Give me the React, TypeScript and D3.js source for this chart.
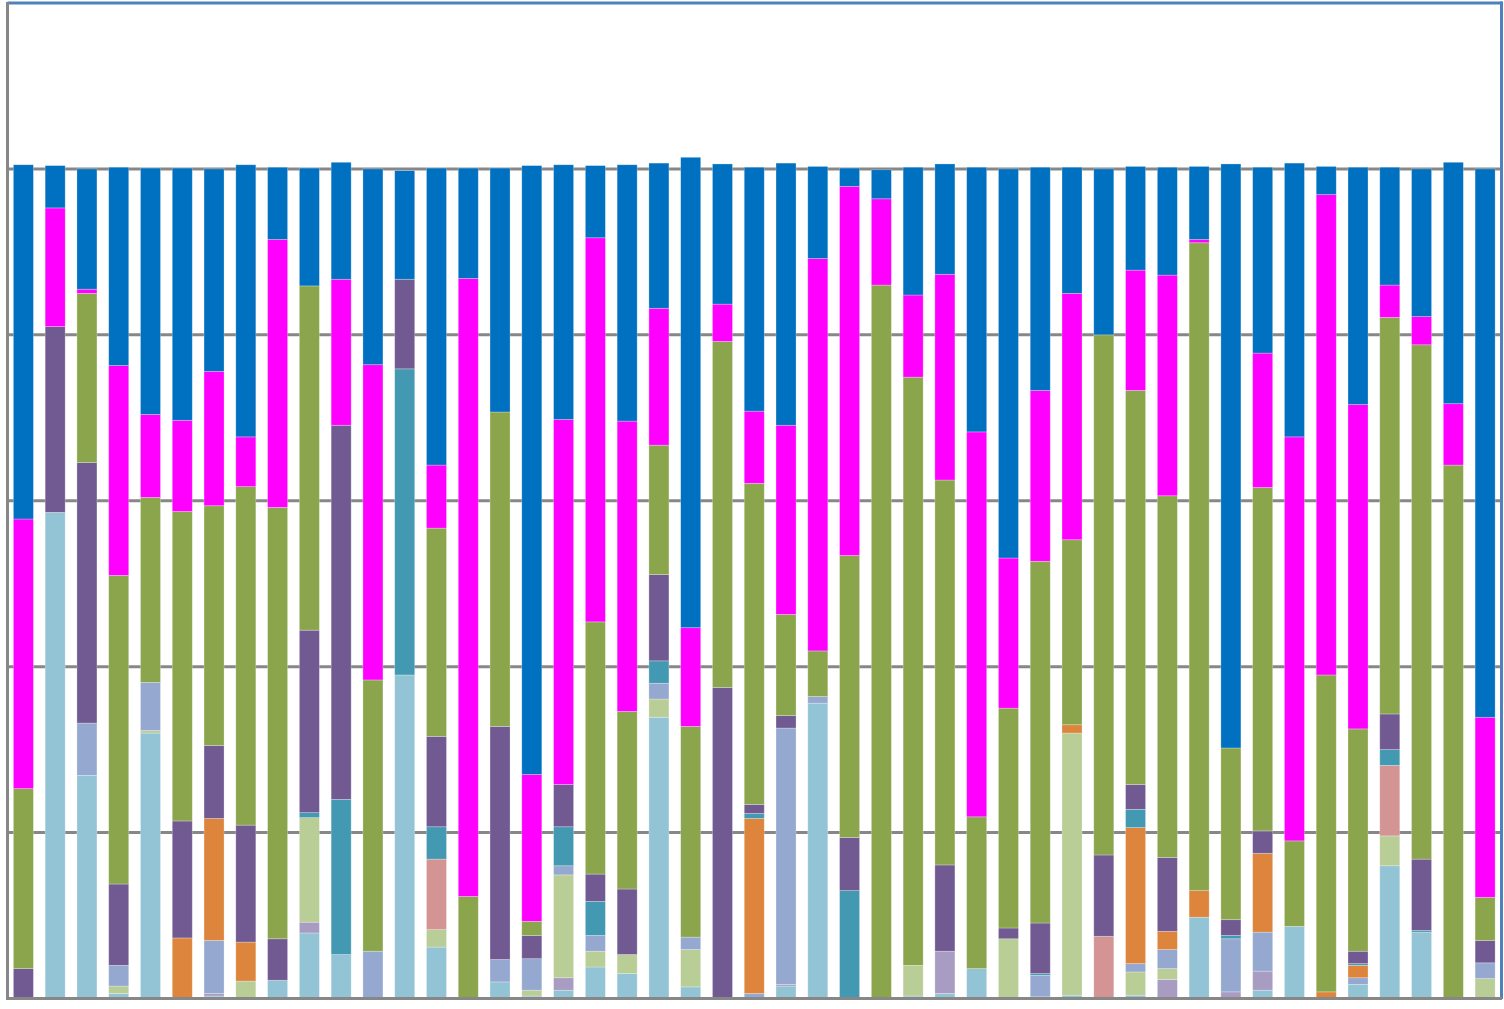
import * as d3 from 'd3';

const W = 1504;
const H = 1009;

// series, bottom to top
const seriesKeys = ['lb', 'lav', 'lg', 'lpb', 'pk', 'or', 'tl', 'pu', 'gr', 'mg', 'bl'];
const seriesColors = ['#93C4D5', '#A99CC2', '#B9CD96', '#95A8D0', '#D49494', '#DD853D', '#4299B1', '#715A92', '#8AA54C', '#FF00FF', '#0070C0'];

const categories = d3.range(1, 48).map(String);

const lb = [0, 58.6, 26.9, 0.6, 32.0, 0, 0.3, 0, 2.2, 7.9, 5.3, 0, 39.0, 6.2, 0, 2.0, 0.3, 1.0, 3.8, 3.0, 33.9, 1.4, 0, 0, 1.5, 35.6, 0, 0, 0.3, 0.6, 3.6, 0, 0.2, 0.4, 0, 0.4, 0, 9.8, 0, 1.0, 8.7, 0, 1.7, 16.0, 8.0, 0, 0];
const lav = [0, 0, 0, 0, 0, 0, 0.3, 0, 0, 1.3, 0, 0, 0, 0, 0, 0, 0, 1.5, 0, 0, 0, 0, 0, 0, 0.2, 0, 0, 0, 0, 5.1, 0, 0, 0, 0, 0, 0, 2.3, 0, 0.8, 2.3, 0, 0, 0, 0, 0, 0, 0];
const lg = [0, 0, 0, 0.9, 0.3, 0, 0, 2.1, 0, 12.6, 0, 0, 0, 2.1, 0, 0, 0.7, 12.4, 1.9, 2.3, 2.2, 4.5, 0, 0, 0, 0, 0, 0, 3.7, 0, 0, 7.2, 0, 31.6, 0, 2.8, 1.3, 0, 0, 0, 0, 0, 0, 3.6, 0, 0, 2.4];
const lpb = [0, 0, 6.3, 2.5, 5.8, 0, 6.4, 0, 0, 0, 0, 5.7, 0, 0, 0, 2.7, 3.8, 1.1, 1.9, 0, 1.9, 1.5, 0, 0.6, 30.9, 0.8, 0, 0, 0, 0, 0, 0, 2.6, 0, 0, 1.0, 2.3, 0, 6.4, 4.7, 0, 0, 0.8, 0, 0, 0, 1.9];
const pk = [0, 0, 0, 0, 0, 0, 0, 0, 0, 0, 0, 0, 0, 8.5, 0, 0, 0, 0, 0, 0, 0, 0, 0, 0, 0, 0, 0, 0, 0, 0, 0, 0, 0, 0, 7.5, 0, 0, 0, 0, 0, 0, 0, 0, 8.5, 0, 0, 0];
const or = [0, 0, 0, 0, 0, 7.3, 14.7, 4.7, 0, 0, 0, 0, 0, 0, 0, 0, 0, 0, 0, 0, 0, 0, 0, 21.1, 0, 0, 0, 0, 0, 0, 0, 0, 0, 1.0, 0, 16.4, 2.2, 3.2, 0, 9.5, 0, 0.8, 1.5, 0, 0, 0, 0];
const tl = [0, 0, 0, 0, 0, 0, 0, 0, 0, 0.6, 18.7, 0, 36.9, 3.9, 0, 0, 0, 4.7, 4.1, 0, 2.7, 0, 0, 0.6, 0, 0, 13.0, 0, 0, 0, 0, 0, 0.2, 0, 0, 2.2, 0, 0, 0.4, 0, 0, 0, 0.2, 1.9, 0.2, 0, 0];
const pu = [3.6, 22.4, 31.4, 9.8, 0, 14.1, 8.8, 14.1, 5.0, 22.0, 45.1, 0, 10.8, 10.9, 0, 28.1, 2.8, 5.1, 3.3, 7.9, 10.4, 0, 37.5, 1.1, 1.5, 0, 6.4, 0, 0, 10.4, 0, 1.3, 6.1, 0, 9.8, 3.0, 8.9, 0, 1.9, 2.7, 0, 0, 1.5, 4.3, 8.6, 0, 2.7];
const gr = [21.7, 0, 20.4, 37.2, 22.3, 37.3, 28.9, 40.8, 52.0, 41.5, 0, 32.7, 0, 25.1, 12.3, 37.9, 1.7, 0, 30.4, 21.4, 15.6, 25.4, 41.7, 38.7, 12.2, 5.5, 34.0, 86.0, 70.9, 46.4, 18.3, 26.5, 43.6, 22.3, 62.7, 47.5, 43.6, 78.1, 20.7, 41.4, 10.3, 38.2, 26.8, 47.8, 62.0, 64.3, 5.2];
const mg = [32.5, 14.3, 0.5, 25.3, 10.0, 11.0, 16.2, 6.0, 32.3, 0, 17.6, 38.0, 0, 7.6, 74.5, 0, 17.7, 44.0, 46.3, 35.0, 16.5, 11.9, 4.5, 8.7, 22.8, 47.3, 44.5, 10.4, 9.9, 24.8, 46.4, 18.1, 20.6, 29.7, 0, 14.5, 26.6, 0.4, 0, 16.2, 48.7, 57.9, 39.1, 3.9, 3.4, 7.4, 21.7];
const bl = [42.7, 5.1, 14.5, 23.9, 29.7, 30.4, 24.4, 32.8, 8.7, 14.2, 14.1, 23.6, 13.1, 35.8, 13.3, 29.4, 73.4, 30.7, 8.7, 30.9, 17.5, 56.7, 16.9, 29.4, 31.6, 11.1, 2.2, 3.5, 15.4, 13.3, 31.9, 46.9, 26.9, 15.2, 20.0, 12.5, 13.0, 8.8, 70.4, 22.4, 33.0, 3.4, 28.6, 14.2, 17.8, 29.1, 66.1];

const gridTicks = [20, 40, 60, 80, 100];

const seriesValues = [lb, lav, lg, lpb, pk, or, tl, pu, gr, mg, bl];

export default function App() {
  const rows = categories.map((c, i) => {
    const row: any = { cat: c };
    seriesKeys.forEach((k, j) => (row[k] = seriesValues[j][i]));
    return row;
  });

  const stacked = d3.stack().keys(seriesKeys)(rows);

  const x = d3
    .scaleBand()
    .domain(categories)
    .range([7.5, 1501])
    .paddingInner(0.37)
    .paddingOuter(0.185);
  const y = d3.scaleLinear().domain([0, 120]).range([998.5, 3]);

  return (
    <svg
      width={W}
      height={H}
      style={{ position: 'absolute', left: 0, top: 0, display: 'block', background: '#fff' }}
    >
      <g className="grid">
        {gridTicks.map((t) => (
          <line key={t} x1={7.5} x2={1501} y1={y(t)} y2={y(t)} stroke="#878787" strokeWidth={3} />
        ))}
      </g>
      <g className="bars">
        {stacked.map((s, j) =>
          s.map((d, i) => {
            const h = y(d[0]) - y(d[1]);
            if (h <= 0) return null;
            return (
              <rect
                key={`${j}-${i}`}
                x={x(categories[i])}
                y={y(d[1])}
                width={x.bandwidth()}
                height={h}
                fill={seriesColors[j]}
                stroke="rgba(255,255,255,0.35)"
                strokeWidth={0.75}
              />
            );
          })
        )}
      </g>
      <line x1={7.5} x2={1502.5} y1={3} y2={3} stroke="#4F81BD" strokeWidth={3} />
      <line x1={1501.5} x2={1501.5} y1={1.5} y2={999} stroke="#4F81BD" strokeWidth={3} />
      <line x1={7.5} x2={7.5} y1={2} y2={1000} stroke="#878787" strokeWidth={3} />
      <line x1={6} x2={1502} y1={998.5} y2={998.5} stroke="#878787" strokeWidth={3} />
    </svg>
  );
}
